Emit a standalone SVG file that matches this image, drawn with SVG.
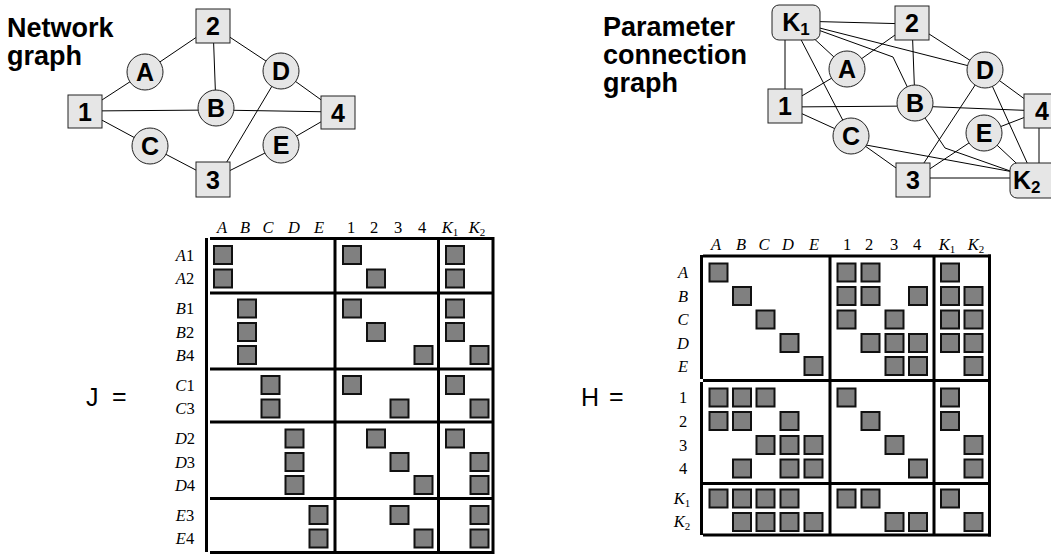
<svg xmlns="http://www.w3.org/2000/svg" width="1051" height="554" viewBox="0 0 1051 554">
<style>
.title{font-family:"Liberation Sans",Arial,sans-serif;font-weight:bold;font-size:27px;fill:#000}
.nd{fill:#e6e6e6;stroke:#222;stroke-width:1}
.lb{font-family:"Liberation Sans",Arial,sans-serif;font-weight:bold;font-size:25px;text-anchor:middle;fill:#000}
.sub{font-size:17px}
.ed{stroke:#000;stroke-width:1;fill:none}
.c{fill:#808080;stroke:#111;stroke-width:2}
.bl{stroke:#000;stroke-width:3;fill:none}
.ml{font-family:"Liberation Serif","DejaVu Serif",serif;font-style:italic;font-size:16.5px;text-anchor:middle;fill:#000}
.mr{font-style:normal}
.ms{font-size:11px;font-style:normal}
.eq{font-family:"Liberation Sans",Arial,sans-serif;font-size:25px;fill:#000}
</style>

<text class="title" x="7" y="37">Network</text>
<text class="title" x="7" y="65">graph</text>
<text class="title" x="603" y="36">Parameter</text>
<text class="title" x="603" y="64">connection</text>
<text class="title" x="603" y="92">graph</text>

<g id="connectors-network">
<line class="ed" x1="213" y1="26" x2="145" y2="72"/>
<line class="ed" x1="213" y1="26" x2="216" y2="108"/>
<line class="ed" x1="213" y1="26" x2="281" y2="71"/>
<line class="ed" x1="85" y1="111" x2="145" y2="72"/>
<line class="ed" x1="85" y1="111" x2="216" y2="110"/>
<line class="ed" x1="216" y1="110" x2="338" y2="112"/>
<line class="ed" x1="85" y1="111" x2="150" y2="146"/>
<line class="ed" x1="281" y1="71" x2="338" y2="112"/>
<line class="ed" x1="281" y1="71" x2="222" y2="170"/>
<line class="ed" x1="150" y1="146" x2="213" y2="179"/>
<line class="ed" x1="281" y1="145" x2="213" y2="179"/>
<line class="ed" x1="281" y1="145" x2="338" y2="112"/>
</g>

<g id="n1"><rect class="nd" x="68" y="95" width="34" height="33"/><text class="lb" x="85" y="120.5">1</text></g>
<g id="n2"><rect class="nd" x="196" y="9" width="34" height="34"/><text class="lb" x="213" y="35">2</text></g>
<g id="n3"><rect class="nd" x="196" y="162" width="34" height="35"/><text class="lb" x="213" y="188.5">3</text></g>
<g id="n4"><rect class="nd" x="321" y="96" width="34" height="33"/><text class="lb" x="338" y="121.5">4</text></g>
<g id="nA"><circle class="nd" cx="145" cy="72" r="18"/><text class="lb" x="145" y="81">A</text></g>
<g id="nB"><circle class="nd" cx="216" cy="108" r="18"/><text class="lb" x="216" y="117">B</text></g>
<g id="nC"><circle class="nd" cx="150" cy="146" r="18"/><text class="lb" x="150" y="155">C</text></g>
<g id="nD"><circle class="nd" cx="281" cy="71" r="18"/><text class="lb" x="281" y="80">D</text></g>
<g id="nE"><circle class="nd" cx="281" cy="145" r="18"/><text class="lb" x="281" y="154">E</text></g>

<g id="connectors-param">
<line class="ed" x1="796" y1="21" x2="912" y2="24"/>
<line class="ed" x1="796" y1="22" x2="847" y2="69"/>
<polyline class="ed" points="796,22 893,57 915,103"/>
<line class="ed" x1="796" y1="22" x2="985" y2="70"/>
<line class="ed" x1="785" y1="30" x2="785" y2="100"/>
<line class="ed" x1="796" y1="30" x2="851" y2="136"/>
<line class="ed" x1="912" y1="23" x2="847" y2="69"/>
<line class="ed" x1="912" y1="23" x2="915" y2="103"/>
<line class="ed" x1="912" y1="23" x2="985" y2="70"/>
<line class="ed" x1="785" y1="106" x2="847" y2="69"/>
<line class="ed" x1="785" y1="107" x2="915" y2="106"/>
<line class="ed" x1="915" y1="106" x2="1041" y2="111"/>
<line class="ed" x1="785" y1="106" x2="851" y2="136"/>
<line class="ed" x1="985" y1="70" x2="1041" y2="111"/>
<line class="ed" x1="985" y1="70" x2="918" y2="172"/>
<line class="ed" x1="985" y1="70" x2="1034" y2="178"/>
<polyline class="ed" points="915,103 945,148 1030,178"/>
<line class="ed" x1="984" y1="133" x2="1041" y2="111"/>
<line class="ed" x1="984" y1="133" x2="913" y2="180"/>
<line class="ed" x1="984" y1="133" x2="1030" y2="176"/>
<line class="ed" x1="851" y1="136" x2="913" y2="180"/>
<line class="ed" x1="855" y1="143" x2="1030" y2="175"/>
<line class="ed" x1="1039" y1="111" x2="1039" y2="180"/>
<line class="ed" x1="913" y1="178" x2="1036" y2="178"/>
</g>

<g id="pK1"><rect class="nd" x="772" y="5" width="48" height="35" rx="7"/><text class="lb" x="796" y="31">K<tspan class="sub" dy="4">1</tspan></text></g>
<g id="p2"><rect class="nd" x="895" y="6" width="34" height="34"/><text class="lb" x="912" y="32">2</text></g>
<g id="p1"><rect class="nd" x="768" y="89" width="34" height="34"/><text class="lb" x="785" y="115">1</text></g>
<g id="p4"><rect class="nd" x="1024" y="94" width="34" height="34"/><text class="lb" x="1042" y="120">4</text></g>
<g id="p3"><rect class="nd" x="896" y="163" width="34" height="34"/><text class="lb" x="913" y="189">3</text></g>
<g id="pK2"><rect class="nd" x="1010" y="163" width="54" height="35" rx="7"/><text class="lb" x="1013" y="189" style="text-anchor:start">K<tspan class="sub" dy="4">2</tspan></text></g>
<g id="pA"><circle class="nd" cx="847" cy="69" r="18"/><text class="lb" x="847" y="78">A</text></g>
<g id="pB"><circle class="nd" cx="915" cy="103" r="18"/><text class="lb" x="915" y="112">B</text></g>
<g id="pC"><circle class="nd" cx="851" cy="136" r="18"/><text class="lb" x="851" y="145">C</text></g>
<g id="pD"><circle class="nd" cx="985" cy="70" r="18"/><text class="lb" x="985" y="79">D</text></g>
<g id="pE"><circle class="nd" cx="984" cy="133" r="18"/><text class="lb" x="984" y="142">E</text></g>

<!-- J matrix -->
<g id="matrixJ">
<text class="eq" x="86" y="406">J</text>
<text class="eq" x="112" y="405">=</text>
<g>
<text class="ml" x="222" y="233">A</text>
<text class="ml" x="245" y="233">B</text>
<text class="ml" x="268" y="233">C</text>
<text class="ml" x="294" y="233">D</text>
<text class="ml" x="319" y="233">E</text>
<text class="ml mr" x="351" y="233">1</text>
<text class="ml mr" x="374" y="233">2</text>
<text class="ml mr" x="398" y="233">3</text>
<text class="ml mr" x="422" y="233">4</text>
<text class="ml" x="450" y="233">K<tspan class="ms" dy="3">1</tspan></text>
<text class="ml" x="477" y="233">K<tspan class="ms" dy="3">2</tspan></text>
</g>
<g>
<text class="ml" x="185" y="261">A<tspan class="mr">1</tspan></text>
<text class="ml" x="185" y="284">A<tspan class="mr">2</tspan></text>
<text class="ml" x="185" y="314">B<tspan class="mr">1</tspan></text>
<text class="ml" x="185" y="338">B<tspan class="mr">2</tspan></text>
<text class="ml" x="185" y="361">B<tspan class="mr">4</tspan></text>
<text class="ml" x="185" y="391">C<tspan class="mr">1</tspan></text>
<text class="ml" x="185" y="414">C<tspan class="mr">3</tspan></text>
<text class="ml" x="185" y="444">D<tspan class="mr">2</tspan></text>
<text class="ml" x="185" y="468">D<tspan class="mr">3</tspan></text>
<text class="ml" x="185" y="491">D<tspan class="mr">4</tspan></text>
<text class="ml" x="185" y="521">E<tspan class="mr">3</tspan></text>
<text class="ml" x="185" y="544">E<tspan class="mr">4</tspan></text>
</g>
<line class="bl" x1="206.5" y1="238" x2="206.5" y2="552"/>
<line class="bl" x1="210" y1="238.5" x2="494" y2="238.5"/>
<line class="bl" x1="210" y1="293" x2="494" y2="293"/>
<line class="bl" x1="210" y1="369" x2="494" y2="369"/>
<line class="bl" x1="210" y1="422" x2="494" y2="422"/>
<line class="bl" x1="210" y1="498.5" x2="494" y2="498.5"/>
<line class="bl" x1="210" y1="552.5" x2="494" y2="552.5"/>
<line class="bl" x1="335" y1="238" x2="335" y2="554"/>
<line class="bl" x1="438.5" y1="238" x2="438.5" y2="554"/>
<line class="bl" x1="493" y1="237" x2="493" y2="554"/>
<g>
<rect class="c" x="214" y="246" width="18" height="18"/><rect class="c" x="343" y="246" width="18" height="18"/><rect class="c" x="446" y="246" width="18" height="18"/>
<rect class="c" x="214" y="269.5" width="18" height="18"/><rect class="c" x="367" y="269.5" width="18" height="18"/><rect class="c" x="446" y="269.5" width="18" height="18"/>
<rect class="c" x="238" y="299.5" width="18" height="18"/><rect class="c" x="343" y="299.5" width="18" height="18"/><rect class="c" x="446" y="299.5" width="18" height="18"/>
<rect class="c" x="238" y="323" width="18" height="18"/><rect class="c" x="367" y="323" width="18" height="18"/><rect class="c" x="446" y="323" width="18" height="18"/>
<rect class="c" x="238" y="346" width="18" height="18"/><rect class="c" x="414.5" y="346" width="18" height="18"/><rect class="c" x="470.5" y="346" width="18" height="18"/>
<rect class="c" x="261.5" y="376" width="18" height="18"/><rect class="c" x="343" y="376" width="18" height="18"/><rect class="c" x="446" y="376" width="18" height="18"/>
<rect class="c" x="261.5" y="399.5" width="18" height="18"/><rect class="c" x="390.5" y="399.5" width="18" height="18"/><rect class="c" x="470.5" y="399.5" width="18" height="18"/>
<rect class="c" x="285.5" y="429.5" width="18" height="18"/><rect class="c" x="367" y="429.5" width="18" height="18"/><rect class="c" x="446" y="429.5" width="18" height="18"/>
<rect class="c" x="285.5" y="453" width="18" height="18"/><rect class="c" x="390.5" y="453" width="18" height="18"/><rect class="c" x="470.5" y="453" width="18" height="18"/>
<rect class="c" x="285.5" y="476" width="18" height="18"/><rect class="c" x="414.5" y="476" width="18" height="18"/><rect class="c" x="470.5" y="476" width="18" height="18"/>
<rect class="c" x="309.5" y="506" width="18" height="18"/><rect class="c" x="390.5" y="506" width="18" height="18"/><rect class="c" x="470.5" y="506" width="18" height="18"/>
<rect class="c" x="309.5" y="529.5" width="18" height="18"/><rect class="c" x="414.5" y="529.5" width="18" height="18"/><rect class="c" x="470.5" y="529.5" width="18" height="18"/>
</g>
</g>

<!-- H matrix -->
<g id="matrixH">
<text class="eq" x="581" y="406">H</text>
<text class="eq" x="609" y="405">=</text>
<g>
<text class="ml" x="716" y="250">A</text>
<text class="ml" x="741" y="250">B</text>
<text class="ml" x="764" y="250">C</text>
<text class="ml" x="788" y="250">D</text>
<text class="ml" x="814" y="250">E</text>
<text class="ml mr" x="847" y="250">1</text>
<text class="ml mr" x="869" y="250">2</text>
<text class="ml mr" x="894" y="250">3</text>
<text class="ml mr" x="917" y="250">4</text>
<text class="ml" x="947" y="250">K<tspan class="ms" dy="3">1</tspan></text>
<text class="ml" x="976" y="250">K<tspan class="ms" dy="3">2</tspan></text>
</g>
<g>
<text class="ml" x="683" y="278">A</text>
<text class="ml" x="683" y="302">B</text>
<text class="ml" x="683" y="325">C</text>
<text class="ml" x="683" y="349">D</text>
<text class="ml" x="683" y="372">E</text>
<text class="ml mr" x="683" y="403">1</text>
<text class="ml mr" x="683" y="427">2</text>
<text class="ml mr" x="683" y="451">3</text>
<text class="ml mr" x="683" y="474">4</text>
<text class="ml" x="682" y="504">K<tspan class="ms" dy="3">1</tspan></text>
<text class="ml" x="682" y="527">K<tspan class="ms" dy="3">2</tspan></text>
</g>
<line class="bl" x1="701.5" y1="255" x2="701.5" y2="379"/>
<line class="bl" x1="701.5" y1="382" x2="701.5" y2="535"/>
<line class="bl" x1="703" y1="256" x2="991" y2="256"/>
<line class="bl" x1="703" y1="380.5" x2="991" y2="380.5"/>
<line class="bl" x1="703" y1="483.5" x2="991" y2="483.5"/>
<line class="bl" x1="703" y1="535" x2="991" y2="535"/>
<line class="bl" x1="830" y1="255" x2="830" y2="536"/>
<line class="bl" x1="934" y1="255" x2="934" y2="536"/>
<line class="bl" x1="989.5" y1="254.5" x2="989.5" y2="536.5"/>
<g>
<rect class="c" x="709.5" y="263.5" width="18" height="18"/><rect class="c" x="837.5" y="263.5" width="18" height="18"/><rect class="c" x="861.5" y="263.5" width="18" height="18"/><rect class="c" x="941" y="263.5" width="18" height="18"/>
<rect class="c" x="733" y="287" width="18" height="18"/><rect class="c" x="837.5" y="287" width="18" height="18"/><rect class="c" x="861.5" y="287" width="18" height="18"/><rect class="c" x="909" y="287" width="18" height="18"/><rect class="c" x="941" y="287" width="18" height="18"/><rect class="c" x="964.5" y="287" width="18" height="18"/>
<rect class="c" x="756.5" y="310.5" width="18" height="18"/><rect class="c" x="837.5" y="310.5" width="18" height="18"/><rect class="c" x="885.5" y="310.5" width="18" height="18"/><rect class="c" x="941" y="310.5" width="18" height="18"/><rect class="c" x="964.5" y="310.5" width="18" height="18"/>
<rect class="c" x="780.5" y="334" width="18" height="18"/><rect class="c" x="861.5" y="334" width="18" height="18"/><rect class="c" x="885.5" y="334" width="18" height="18"/><rect class="c" x="909" y="334" width="18" height="18"/><rect class="c" x="941" y="334" width="18" height="18"/><rect class="c" x="964.5" y="334" width="18" height="18"/>
<rect class="c" x="804.5" y="357" width="18" height="18"/><rect class="c" x="885.5" y="357" width="18" height="18"/><rect class="c" x="909" y="357" width="18" height="18"/><rect class="c" x="964.5" y="357" width="18" height="18"/>
<rect class="c" x="709.5" y="388.5" width="18" height="18"/><rect class="c" x="733" y="388.5" width="18" height="18"/><rect class="c" x="756.5" y="388.5" width="18" height="18"/><rect class="c" x="837.5" y="388.5" width="18" height="18"/><rect class="c" x="941" y="388.5" width="18" height="18"/>
<rect class="c" x="709.5" y="412" width="18" height="18"/><rect class="c" x="733" y="412" width="18" height="18"/><rect class="c" x="780.5" y="412" width="18" height="18"/><rect class="c" x="861.5" y="412" width="18" height="18"/><rect class="c" x="941" y="412" width="18" height="18"/>
<rect class="c" x="756.5" y="436" width="18" height="18"/><rect class="c" x="780.5" y="436" width="18" height="18"/><rect class="c" x="804.5" y="436" width="18" height="18"/><rect class="c" x="885.5" y="436" width="18" height="18"/><rect class="c" x="964.5" y="436" width="18" height="18"/>
<rect class="c" x="733" y="459.5" width="18" height="18"/><rect class="c" x="780.5" y="459.5" width="18" height="18"/><rect class="c" x="804.5" y="459.5" width="18" height="18"/><rect class="c" x="909" y="459.5" width="18" height="18"/><rect class="c" x="964.5" y="459.5" width="18" height="18"/>
<rect class="c" x="709.5" y="489.5" width="18" height="18"/><rect class="c" x="733" y="489.5" width="18" height="18"/><rect class="c" x="756.5" y="489.5" width="18" height="18"/><rect class="c" x="780.5" y="489.5" width="18" height="18"/><rect class="c" x="837.5" y="489.5" width="18" height="18"/><rect class="c" x="861.5" y="489.5" width="18" height="18"/><rect class="c" x="941" y="489.5" width="18" height="18"/>
<rect class="c" x="733" y="513" width="18" height="18"/><rect class="c" x="756.5" y="513" width="18" height="18"/><rect class="c" x="780.5" y="513" width="18" height="18"/><rect class="c" x="804.5" y="513" width="18" height="18"/><rect class="c" x="885.5" y="513" width="18" height="18"/><rect class="c" x="909" y="513" width="18" height="18"/><rect class="c" x="964.5" y="513" width="18" height="18"/>
</g>
</g>
</svg>
